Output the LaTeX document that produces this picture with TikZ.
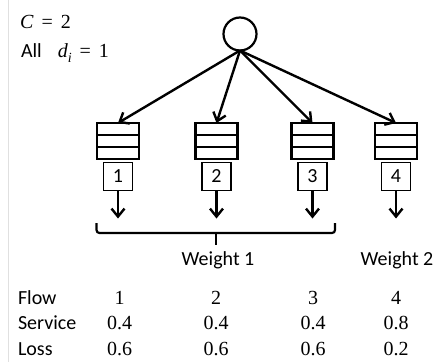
\documentclass[tikz,border=0pt]{standalone}
\usepackage{fontspec}
\setmainfont{Carlito}
\newfontfamily\numf{Liberation Serif}
\usetikzlibrary{arrows.meta}
\begin{document}
\begin{tikzpicture}[x=1pt,y=-1pt,
  every node/.style={inner sep=0pt, outer sep=0pt, font=\fontsize{20}{24}\selectfont},
  src/.style={circle, draw, line width=2.2pt, minimum size=33pt},
  queue/.style={rectangle, draw, line width=2.2pt, minimum width=42pt, minimum height=36pt},
  numbox/.style={rectangle, draw, line width=1.7pt, minimum width=29pt, minimum height=28pt},
  arr/.style={line width=2.4pt, -{Straight Barb[length=8pt,width=13pt,line width=2.4pt]}},
  lbl/.style={anchor=base west},
  val/.style={anchor=base, font=\fontsize{20}{24}\selectfont\numf}]
\useasboundingbox (0,0) rectangle (442,362);
\draw[black!12, line width=1pt] (8,0) -- (8,362);

% header text
\node[lbl] (ctext) at (20,28.5) {{\numf\textit{C}\hspace{0.4em}=\hspace{0.4em}2}};
\node[lbl] (alltext) at (21,57) {All\hspace{0.8em}{\numf\textit{d}\raisebox{-0.25em}{\fontsize{14}{16}\selectfont\textit{i}}\hspace{0.4em}=\hspace{0.4em}1}};

% source
\node[src] (s) at (240,34) {};

% queues
\foreach \i/\x in {1/118,2/216.5,3/312.5,4/396}{
  \node[queue] (q\i) at (\x,141) {};
  \draw[line width=2.2pt] ([yshift=-12pt]q\i.north west) -- ([yshift=-12pt]q\i.north east);
  \draw[line width=2.2pt] ([yshift=12pt]q\i.south west) -- ([yshift=12pt]q\i.south east);
  \node[numbox] (b\i) at (\x,176.5) {\i};
  \coordinate (e\i) at (\x,218.5);
  \draw[arr] (s.south) -- (q\i.north);
  \draw[arr] (b\i.south) -- (e\i);
}

% brace
\coordinate (brl) at (96.5,223);
\coordinate (brr) at (335,223);
\coordinate (brm) at (216,233);
\coordinate (brt) at (216,245);
\draw[line width=2.2pt, rounded corners=3pt] (brl) -- (96.5,233) -- (335,233) -- (brr);
\draw[line width=2.2pt] (brm) -- (brt);

\node[anchor=base] (w1) at (218,265) {Weight 1};
\node[anchor=base] (w2) at (397,265) {Weight 2};

% table
\node[lbl] (flow) at (18,304) {Flow};
\node[lbl] (serv) at (18,329) {Service};
\node[lbl] (loss) at (18,355) {Loss};
\foreach \i/\x/\s/\l in {1/119.5/0.4/0.6,2/216/0.4/0.6,3/313/0.4/0.6,4/396/0.8/0.2}{
  \node[val] (f\i) at (\x,304) {\i};
  \node[val] (sv\i) at (\x,329) {\s};
  \node[val] (ls\i) at (\x,355) {\l};
}
\end{tikzpicture}
\end{document}
